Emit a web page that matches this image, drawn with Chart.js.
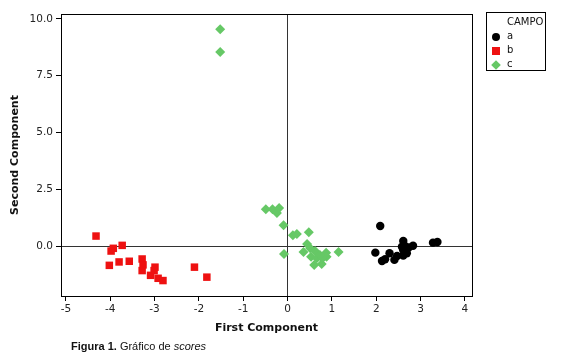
<!DOCTYPE html>
<html>
<head>
<meta charset="utf-8">
<script src="https://cdn.jsdelivr.net/npm/chart.js@4"></script>
<style>
  html, body { margin: 0; padding: 0; background: #fff; }
  #wrap { position: relative; width: 575px; height: 362px; }
  #legend {
    position: absolute; left: 486px; top: 12px; width: 58px; height: 57px;
    border: 1px solid #000; font: 10px "DejaVu Sans", sans-serif; color: #111;
  }
  #legend .title { position: absolute; left: 20px; top: 3px; }
  #legend .item { position: absolute; left: 20px; }
  #legend .mk { position: absolute; left: -15px; top: 3px; width: 8px; height: 8px; }
  #caption {
    position: absolute; left: 71px; top: 340px;
    font: 11px "Liberation Sans", Arial, sans-serif; color: #111;
  }
</style>
</head>
<body>
<div id="wrap">
  <canvas id="scoreChart" width="575" height="362"></canvas>
  <div id="legend">
    <div class="title">CAMPO</div>
    <div class="item" style="top:17px"><span class="mk" style="background:#000;border-radius:50%"></span>a</div>
    <div class="item" style="top:31px"><span class="mk" style="background:#ee1111;"></span>b</div>
    <div class="item" style="top:45px"><span class="mk" style="background:#66c866;transform:rotate(45deg) scale(0.85);"></span>c</div>
  </div>
  <div id="caption"><b>Figura 1.</b> Gráfico de <i>scores</i></div>
</div>
<script>
// puntajes (PC1, PC2)
const campoA_x = [2.09, 1.98, 2.13, 2.20, 2.30, 2.41, 2.47, 2.61, 2.64, 2.61, 2.73, 2.83, 2.69, 2.61, 3.28, 3.38, 2.58];
const campoA_y = [0.88, -0.29, -0.66, -0.58, -0.32, -0.61, -0.44, 0.22, 0.01, -0.18, -0.06, 0.01, -0.32, -0.42, 0.15, 0.18, -0.03];

const campoB_x = [-4.32, -3.93, -3.98, -3.73, -4.02, -3.80, -3.57, -3.28, -3.26, -3.28, -2.99, -3.01, -3.09, -2.92, -2.81, -2.10, -1.82];
const campoB_y = [0.44, -0.10, -0.22, 0.03, -0.85, -0.70, -0.67, -0.57, -0.83, -1.08, -0.93, -1.08, -1.29, -1.42, -1.52, -0.93, -1.37];

const campoC_x = [-1.52, -1.52, -0.49, -0.34, -0.24, -0.19, -0.09, 0.12, 0.21, 0.48, -0.08, 0.44, 0.36, 0.51, 0.62, 0.53, 0.66, 0.60, 0.77, 0.87, 0.88, 0.79, 1.15, 0.73];
const campoC_y = [9.55, 8.55, 1.62, 1.62, 1.46, 1.68, 0.92, 0.48, 0.53, 0.61, -0.35, 0.09, -0.26, -0.10, -0.22, -0.47, -0.54, -0.83, -0.79, -0.29, -0.47, -0.54, -0.26, -0.39];

const xTicks = [-5, -4, -3, -2, -1, 0, 1, 2, 3, 4];
const yTicks = [0, 2.5, 5, 7.5, 10];

const toPoints = (xs, ys) => xs.map((x, i) => ({ x: x, y: ys[i] }));

// marco completo alrededor del área del gráfico
const frame = {
    id: "frame",
    afterDraw(chart) {
        const a = chart.chartArea;
        const ctx = chart.ctx;
        ctx.save();
        ctx.strokeStyle = "#000";
        ctx.lineWidth = 1;
        ctx.strokeRect(Math.round(a.left) + 0.5, Math.round(a.top) + 0.5,
            Math.round(a.right - a.left), Math.round(a.bottom - a.top));
        ctx.restore();
    }
};

const zeroLine = (c) => (c.tick && c.tick.value === 0 ? "#333" : "rgba(0,0,0,0)");
const tickFont = { family: "DejaVu Sans", size: 10.5 };
const titleFont = { family: "DejaVu Sans", size: 11, weight: "bold" };

new Chart(document.getElementById("scoreChart").getContext("2d"), {
    type: "scatter",
    data: {
        datasets: [
            { label: "a", data: toPoints(campoA_x, campoA_y), pointStyle: "circle", pointRadius: 4.2,
              backgroundColor: "#000", borderColor: "#000", borderWidth: 0 },
            { label: "b", data: toPoints(campoB_x, campoB_y), pointStyle: "rect", pointRadius: 5.3,
              backgroundColor: "#ee1111", borderColor: "#ee1111", borderWidth: 0 },
            { label: "c", data: toPoints(campoC_x, campoC_y), pointStyle: "rectRot", pointRadius: 5,
              backgroundColor: "#66c866", borderColor: "#66c866", borderWidth: 0 }
        ]
    },
    options: {
        responsive: false,
        animation: false,
        layout: { padding: { top: 14, right: 103, bottom: 27, left: 9 } },
        plugins: { legend: { display: false }, tooltip: { enabled: false } },
        scales: {
            x: {
                type: "linear", min: -5.11, max: 4.16,
                afterBuildTicks: (s) => { s.ticks = xTicks.map(v => ({ value: v })); },
                afterFit: (s) => { s.height = 39; },
                grid: { color: zeroLine, tickColor: "#000", tickLength: 5, drawTicks: true },
                border: { display: true, color: "#000" },
                ticks: { color: "#222", font: tickFont, padding: 2, maxRotation: 0 },
                title: { display: true, text: "First Component", color: "#111", font: titleFont, padding: { top: 1, bottom: 0 } }
            },
            y: {
                type: "linear", min: -2.2, max: 10.22,
                afterBuildTicks: (s) => { s.ticks = yTicks.map(v => ({ value: v })); },
                afterFit: (s) => { s.width = 52; },
                grid: { color: zeroLine, tickColor: "#000", tickLength: 5, drawTicks: true },
                border: { display: true, color: "#000" },
                ticks: { color: "#222", font: tickFont, padding: 3, callback: (v) => v.toFixed(1) },
                title: { display: true, text: "Second Component", color: "#111", font: titleFont, padding: { top: 0, bottom: 6 } }
            }
        }
    },
    plugins: [frame]
});
</script>
</body>
</html>
